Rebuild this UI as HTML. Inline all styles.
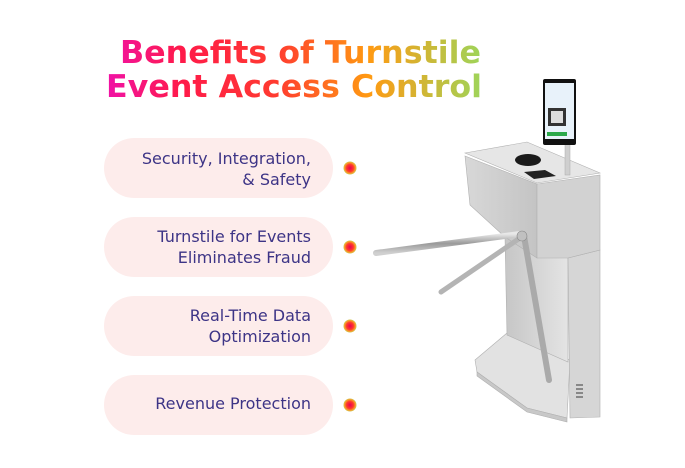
<!DOCTYPE html>
<html><head><meta charset="utf-8"><style>
html,body{margin:0;padding:0;background:#fff;}
svg{display:block;}
</style></head><body>
<svg width="685" height="468" viewBox="0 0 685 468" xmlns="http://www.w3.org/2000/svg" font-family="Liberation Sans, sans-serif">
<defs>
<linearGradient id="tg" x1="105" y1="0" x2="482" y2="0" gradientUnits="userSpaceOnUse">
<stop offset="0" stop-color="#f012a8"/><stop offset="0.2" stop-color="#ff1a4a"/><stop offset="0.45" stop-color="#ff3a30"/><stop offset="0.7" stop-color="#ff9a12"/><stop offset="1" stop-color="#9ed45a"/>
</linearGradient>
<radialGradient id="dot"><stop offset="0" stop-color="#e8005a"/><stop offset="0.55" stop-color="#ff3a2a"/><stop offset="0.85" stop-color="#f7a12a"/><stop offset="1" stop-color="#c8c85a"/></radialGradient>
<linearGradient id="m1" x1="0" y1="0" x2="1" y2="0"><stop offset="0" stop-color="#d8d8d8"/><stop offset="1" stop-color="#c4c4c4"/></linearGradient>
<linearGradient id="m2" x1="0" y1="0" x2="1" y2="0"><stop offset="0" stop-color="#c6c6c6"/><stop offset="1" stop-color="#e4e4e4"/></linearGradient>
<linearGradient id="bar" x1="0" y1="0" x2="0" y2="1"><stop offset="0" stop-color="#e8e8e8"/><stop offset="0.5" stop-color="#9a9a9a"/><stop offset="1" stop-color="#d0d0d0"/></linearGradient>
</defs>
<g font-family="DejaVu Sans, sans-serif" font-weight="bold" font-size="31" fill="url(#tg)">
<text x="120" y="63" textLength="361" lengthAdjust="spacingAndGlyphs">Benefits of Turnstile</text>
<text x="106" y="97" textLength="376" lengthAdjust="spacingAndGlyphs">Event Access Control</text>
</g>
<g fill="#fdeceb">
<rect x="104" y="138" width="229" height="60" rx="30"/>
<rect x="104" y="217" width="229" height="60" rx="30"/>
<rect x="104" y="296" width="229" height="60" rx="30"/>
<rect x="104" y="375" width="229" height="60" rx="30"/>
</g>
<g fill="#3d3486" font-family="DejaVu Sans, sans-serif" font-size="16" text-anchor="end">
<text x="311" y="164">Security, Integration,</text>
<text x="311" y="185">&amp; Safety</text>
<text x="311" y="242">Turnstile for Events</text>
<text x="311" y="263">Eliminates Fraud</text>
<text x="311" y="321">Real-Time Data</text>
<text x="311" y="342">Optimization</text>
<text x="311" y="409">Revenue Protection</text>
</g>
<g fill="url(#dot)">
<circle cx="350" cy="168" r="6.5"/><circle cx="350" cy="247" r="6.5"/><circle cx="350" cy="326" r="6.5"/><circle cx="350" cy="405" r="6.5"/>
</g>
<g stroke="#b0b0b0" stroke-width="0.6">
<polygon points="475,360 507,333 570,360 567,418 527,408 477,372" fill="#e2e2e2"/>
<polygon points="477,372 527,408 567,418 567,422 527,412 477,376" fill="#c8c8c8"/>
<polygon points="505,237 568,258 568,362 507,335" fill="url(#m2)"/>
<polygon points="568,258 600,250 600,417 570,418" fill="#d6d6d6"/>
<polygon points="465,156 537,184 537,258 505,237 470,205" fill="url(#m1)"/>
<polygon points="537,184 600,175 600,250 568,258 537,258" fill="#d2d2d2"/>
<polygon points="465,153 527,142 600,173 537,183" fill="#e6e6e6"/>
</g>
<ellipse cx="528" cy="160" rx="13" ry="6" fill="#1a1a1a"/>
<polygon points="524,172 545,170 556,176 534,179" fill="#222"/>
<g fill="#888"><rect x="576" y="384" width="7" height="2"/><rect x="576" y="388" width="7" height="2"/><rect x="576" y="392" width="7" height="2"/><rect x="576" y="396" width="7" height="2"/></g>
<line x1="520" y1="234" x2="376" y2="253" stroke="url(#bar)" stroke-width="6" stroke-linecap="round"/>
<line x1="520" y1="238" x2="441" y2="292" stroke="#b4b4b4" stroke-width="5" stroke-linecap="round"/>
<line x1="524" y1="236" x2="549" y2="380" stroke="#aaa" stroke-width="6" stroke-linecap="round"/>
<circle cx="522" cy="236" r="5" fill="#c0c0c0" stroke="#888" stroke-width="0.6"/>
<rect x="565" y="143" width="5" height="32" fill="#cfcfcf" stroke="#aaa" stroke-width="0.5"/>
<rect x="543" y="79" width="33" height="66" rx="2" fill="#111"/>
<rect x="545" y="83" width="29" height="56" fill="#e8f2fa"/>
<rect x="548" y="108" width="18" height="18" fill="#333"/>
<rect x="551" y="111" width="12" height="12" fill="#ddd"/>
<rect x="547" y="132" width="20" height="4" fill="#2ba84a"/>
</svg>
</body></html>
